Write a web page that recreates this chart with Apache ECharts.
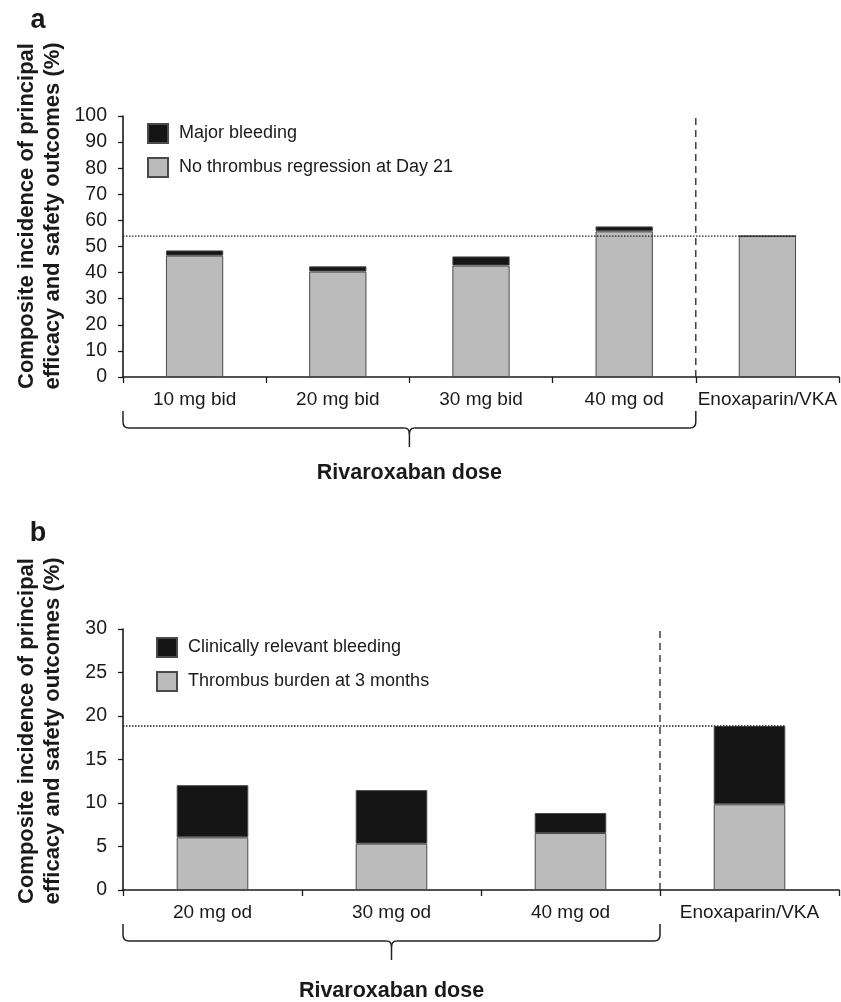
<!DOCTYPE html>
<html>
<head>
<meta charset="utf-8">
<script src="https://cdn.jsdelivr.net/npm/echarts@6/dist/echarts.min.js"></script>
<style>
html,body{margin:0;padding:0;background:#fff;}
#chart{width:841px;height:1002px;}
</style>
</head>
<body>
<div id="chart"></div>
<script>
// ---- Panel a data ----
const catsA = ['10 mg bid', '20 mg bid', '30 mg bid', '40 mg od', 'Enoxaparin/VKA'];
const noRegressionA = [46.5, 40.4, 42.7, 55.8, 54.0];
const majorBleedingA = [2.0, 2.0, 3.5, 1.9, 0];
const refLineA = 54.0;
const yTicksA = [0, 10, 20, 30, 40, 50, 60, 70, 80, 90, 100];

// ---- Panel b data ----
const catsB = ['20 mg od', '30 mg od', '40 mg od', 'Enoxaparin/VKA'];
const thrombusBurdenB = [6.05, 5.33, 6.55, 9.85];
const clinBleedingB = [6.0, 6.15, 2.3, 9.0];
const refLineB = 18.85;
const yTicksB = [0, 5, 10, 15, 20, 25, 30];

const FONT = "'Liberation Sans', Arial, Helvetica, sans-serif";
const TXT = '#1a1a1a';
const GRAY = '#bbbbbb';
const BLACK = '#151515';
const BAR_FRAC = 0.4;

const chart = echarts.init(document.getElementById('chart'));

function catAxis(cats, gi) {
  return {
    type: 'category', gridIndex: gi, data: cats,
    axisLine: { lineStyle: { color: TXT, width: 1.6 } },
    axisTick: { show: true, length: 6, lineStyle: { color: TXT, width: 1.3 } },
    axisLabel: { color: TXT, fontFamily: FONT, fontSize: 19, margin: 13, interval: 0 }
  };
}
function hiddenX(n, gi) {
  return { type: 'value', gridIndex: gi, min: 0, max: n, show: false };
}
function valAxis(ticks, gi) {
  return {
    type: 'value', gridIndex: gi,
    min: ticks[0], max: ticks[ticks.length - 1], interval: ticks[1] - ticks[0],
    axisLine: { show: true, lineStyle: { color: TXT, width: 1.6 } },
    axisTick: { show: true, length: 5, lineStyle: { color: TXT, width: 1.3 } },
    splitLine: { show: false },
    axisLabel: { color: TXT, fontFamily: FONT, fontSize: 19.5, margin: 16 }
  };
}
function barSeries(name, data, color, xi, yi, stack) {
  return {
    type: 'bar', name, data, stack, xAxisIndex: xi, yAxisIndex: yi,
    barWidth: (BAR_FRAC * 100) + '%',
    itemStyle: { color, borderColor: '#4a4a4a', borderWidth: 1 },
    emphasis: { disabled: true }, silent: true, z: 2
  };
}
function lineSeries(data, xi, yi, type, width) {
  return {
    type: 'line', data, xAxisIndex: xi, yAxisIndex: yi, symbol: 'none',
    silent: true, z: 5, animation: false,
    lineStyle: { color: '#222', width, type }
  };
}

const nDoseA = catsA.length - 1;
const nDoseB = catsB.length - 1;
const refEndA = catsA.length - 0.5 + BAR_FRAC / 2;
const refEndB = catsB.length - 0.5 + BAR_FRAC / 2;

function legendCfg(names, left, top) {
  return {
    data: names, orient: 'vertical', left, top,
    itemWidth: 20, itemHeight: 19, itemGap: 13,
    icon: 'rect', selectedMode: false,
    textStyle: { color: TXT, fontFamily: FONT, fontSize: 18, padding: [0, 0, 0, 6] }
  };
}

chart.setOption({
  animation: false,
  backgroundColor: '#fff',
  grid: [
    { left: 123, right: 2, top: 116, height: 261 },
    { left: 123, right: 2, top: 629, height: 261 }
  ],
  xAxis: [catAxis(catsA, 0), catAxis(catsB, 1), hiddenX(catsA.length, 0), hiddenX(catsB.length, 1)],
  yAxis: [valAxis(yTicksA, 0), valAxis(yTicksB, 1)],
  legend: [
    legendCfg(['Major bleeding', 'No thrombus regression at Day 21'], 142, 118),
    legendCfg(['Clinically relevant bleeding', 'Thrombus burden at 3 months'], 151, 632)
  ],
  series: [
    barSeries('No thrombus regression at Day 21', noRegressionA, GRAY, 0, 0, 'a'),
    barSeries('Major bleeding', majorBleedingA, BLACK, 0, 0, 'a'),
    barSeries('Thrombus burden at 3 months', thrombusBurdenB, GRAY, 1, 1, 'b'),
    barSeries('Clinically relevant bleeding', clinBleedingB, BLACK, 1, 1, 'b'),
    lineSeries([[0, refLineA], [refEndA, refLineA]], 2, 0, [1.5, 1.5], 1.3),
    lineSeries([[nDoseA, yTicksA[0]], [nDoseA, yTicksA[yTicksA.length - 1]]], 2, 0, [7, 5], 1.3),
    lineSeries([[0, refLineB], [refEndB, refLineB]], 3, 1, [1.5, 1.5], 1.3),
    lineSeries([[nDoseB, yTicksB[0]], [nDoseB, yTicksB[yTicksB.length - 1]]], 3, 1, [7, 5], 1.3)
  ]
});

// Braces and annotation text, positioned from the axes
const STROKE = { stroke: '#222', lineWidth: 1.5, fill: null };
function seg(x1, y1, x2, y2) {
  return { type: 'line', silent: true, shape: { x1, y1, x2, y2 }, style: STROKE };
}
function curve(x1, y1, cx, cy, x2, y2) {
  return { type: 'bezierCurve', silent: true, shape: { x1, y1, cpx1: cx, cpy1: cy, x2, y2 }, style: STROKE };
}
function brace(x0, x1, axisY) {
  const yTop = axisY + 34, yH = axisY + 51, ySp = axisY + 70, r = 6;
  const xm = (x0 + x1) / 2;
  return [
    seg(x0, yTop, x0, yH - r),
    curve(x0, yH - r, x0, yH, x0 + r, yH),
    seg(x0 + r, yH, xm - 5, yH),
    curve(xm - 5, yH, xm, yH, xm, yH + 6),
    seg(xm, yH + 6, xm, ySp),
    curve(xm + 5, yH, xm, yH, xm, yH + 6),
    seg(xm + 5, yH, x1 - r, yH),
    curve(x1 - r, yH, x1, yH, x1, yH - r),
    seg(x1, yH - r, x1, yTop)
  ];
}
const xa0 = chart.convertToPixel({ xAxisIndex: 2 }, 0);
const xa1 = chart.convertToPixel({ xAxisIndex: 2 }, nDoseA);
const ya = chart.convertToPixel({ yAxisIndex: 0 }, 0);
const xb0 = chart.convertToPixel({ xAxisIndex: 3 }, 0);
const xb1 = chart.convertToPixel({ xAxisIndex: 3 }, nDoseB);
const yb = chart.convertToPixel({ yAxisIndex: 1 }, 0);

function txt(text, x, y, size, opts) {
  return Object.assign({
    type: 'text', x, y, silent: true,
    style: { text, fill: TXT, font: `bold ${size}px ${FONT}`, align: 'center', verticalAlign: 'middle', lineHeight: 26 }
  }, opts || {});
}
const yTitle = 'Composite incidence of principal\nefficacy and safety outcomes (%)';

chart.setOption({
  graphic: [].concat(
    brace(xa0, xa1, ya),
    brace(xb0, xb1, yb),
    [
      txt('Rivaroxaban dose', (xa0 + xa1) / 2, ya + 96, 21.5),
      txt('Rivaroxaban dose', (xb0 + xb1) / 2, yb + 101, 21.5),
      txt('a', 38, 21, 27),
      txt('b', 38, 534, 27),
      txt(yTitle, 40, 216, 22, { rotation: Math.PI / 2 }),
      txt(yTitle, 40, 731, 22, { rotation: Math.PI / 2 })
    ]
  )
});
</script>
</body>
</html>
